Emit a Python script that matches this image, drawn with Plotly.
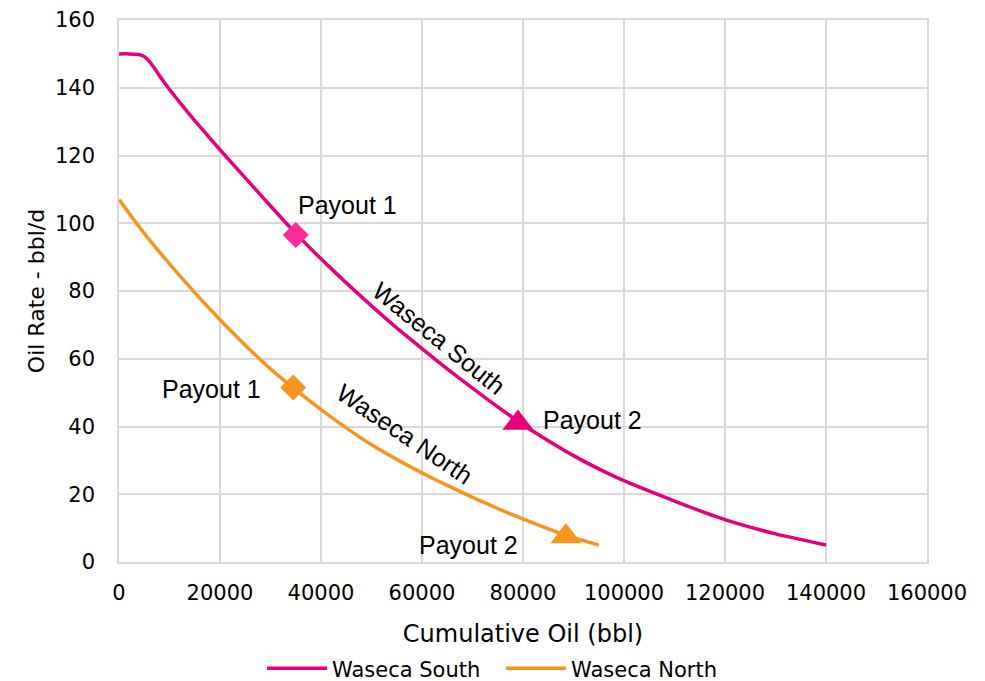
"""
Oil rate vs cumulative oil for the two Waseca wells, with payout markers.
"""

import plotly.graph_objects as go

# cumulative oil (bbl) and oil rate (bbl/d)
south_cum = [0, 2000, 4000, 5000, 6000, 7000, 8000, 9000, 10000, 12500, 15000,
             20000, 25000, 30000, 35000, 40000, 45000, 50000, 55000, 60000,
             65000, 70000, 75000, 80000, 85000, 90000, 95000, 100000, 110000,
             120000, 130000, 140000]
south_rate = [150, 150, 149.8, 149.2, 147.8, 145.8, 143.6, 141.5, 139.5, 134.8, 130.3,
              121.7, 113.4, 105.1, 97, 89.5, 82.4, 75.6, 69.1, 63,
              57, 51.3, 45.8, 40.5, 35.8, 31.4, 27.5, 24, 18,
              12.5, 8.3, 5]

north_cum = [0, 5000, 10000, 15000, 20000, 25000, 30000, 35000, 40000, 45000,
             50000, 55000, 60000, 65000, 70000, 75000, 80000, 85000, 90000, 95000]
north_rate = [107, 97, 88, 79.5, 71.5, 64, 57, 50.8, 45, 39.6,
              34.6, 30.3, 26.3, 22.6, 19.1, 15.8, 12.7, 9.8, 7.2, 5]

# payout points
south_payout1 = (35000, 96.5)
south_payout2 = (79000, 41)
north_payout1 = (34500, 51.5)
north_payout2 = (88500, 7.5)

x_ticks = [0, 20000, 40000, 60000, 80000, 100000, 120000, 140000, 160000]
y_ticks = [0, 20, 40, 60, 80, 100, 120, 140, 160]

PINK = "#e6007e"
PINK_LIGHT = "#ff2a9c"
ORANGE = "#f7941d"
GRID = "#d9d9d9"

fig = go.Figure()

# curves
fig.add_trace(go.Scatter(
    x=south_cum, y=south_rate, mode="lines", name="Waseca South",
    line=dict(color=PINK, width=3.5, shape="spline", smoothing=0.5),
))
fig.add_trace(go.Scatter(
    x=north_cum, y=north_rate, mode="lines", name="Waseca North",
    line=dict(color=ORANGE, width=3.5, shape="spline", smoothing=0.5),
))


# payout markers
def add_marker(pt, symbol, color, size):
    fig.add_trace(go.Scatter(
        x=[pt[0]], y=[pt[1]], mode="markers", showlegend=False,
        marker=dict(symbol=symbol, color=color, size=size, line=dict(width=0)),
    ))


add_marker(south_payout1, "diamond", PINK_LIGHT, 20)
add_marker(south_payout2, "triangle-up", PINK, 27)
add_marker(north_payout1, "diamond", ORANGE, 20)
add_marker(north_payout2, "triangle-up", ORANGE, 27)

# text labels
ann_font = dict(family="Liberation Sans, Arial", size=25, color="black")
labels = [
    # text, x, y, angle
    ("Payout 1", 45200, 105.5, 0),
    ("Payout 1", 18300, 51, 0),
    ("Payout 2", 93700, 42, 0),
    ("Payout 2", 69200, 5, 0),
    ("Waseca South", 63300, 66, 39),
    ("Waseca North", 56600, 37.8, 34),
]
for text, x, y, ang in labels:
    fig.add_annotation(x=x, y=y, text=text, showarrow=False, textangle=ang,
                       font=ann_font, xanchor="center", yanchor="middle")

axis_common = dict(
    showgrid=True, gridcolor=GRID, gridwidth=1.5,
    showline=True, linecolor=GRID, linewidth=1.5, mirror=True,
    zeroline=False, ticks="",
    tickfont=dict(family="DejaVu Sans", size=21, color="black"),
)

fig.update_xaxes(
    range=[0, 160000], tickvals=x_ticks, ticktext=[str(v) for v in x_ticks],
    ticklabelstandoff=11,
    title=dict(text="Cumulative Oil (bbl)", standoff=21,
               font=dict(family="DejaVu Sans", size=24, color="black")),
    **axis_common,
)
fig.update_yaxes(
    range=[0, 160], tickvals=y_ticks, ticklabelstandoff=18,
    title=dict(text="Oil Rate - bbl/d", standoff=4,
               font=dict(family="DejaVu Sans", size=22, color="black")),
    **axis_common,
)

# page body has an 8px margin, so the margins are shifted to compensate
fig.update_layout(
    width=985, height=681,
    margin=dict(l=111, r=66, t=12, b=127, autoexpand=False),
    plot_bgcolor="white", paper_bgcolor="white",
    legend=dict(orientation="h", x=0.177, xanchor="left", y=-0.159, yanchor="top",
                font=dict(family="DejaVu Sans", size=21, color="black"),
                itemwidth=60, entrywidth=164, entrywidthmode="pixels"),
    font=dict(family="DejaVu Sans", color="black"),
)

fig.write_html("out.html")
